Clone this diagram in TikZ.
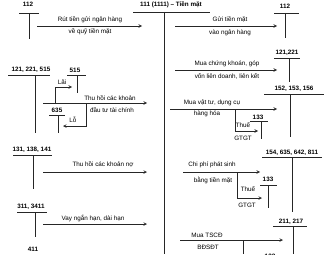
\documentclass[tikz,border=0pt]{standalone}
\usepackage{fontspec}
\setmainfont{Liberation Sans}
\usetikzlibrary{arrows.meta}

\begin{document}
\begin{tikzpicture}[x=1pt,y=-1pt,>=stealth,
  font=\fontsize{6.3}{7}\selectfont,
  every node/.style={inner sep=0pt},
  acc/.style={font=\fontsize{6.3}{7}\selectfont\bfseries},
  tline/.style={line width=0.6pt,black!85},
  flow/.style={->,line width=0.6pt,black!85}]
\useasboundingbox (0,0) rectangle (334,254);
\clip (0,0) rectangle (334,254);

% cash account in the middle
\node[acc] (tm) at (171,5) {111 (1111) – Tiền mặt};
\draw[tline] (133,12) -- (210,12);
\draw[tline] (164,12) coordinate (tmtop) -- (164,254) coordinate (tmbot);

% --- left side: money coming in
\node[acc] (l112) at (28,4) {112};
\draw[tline] (19,13) -- (39,13);
\draw[tline] (29,13) -- (29,39);
\coordinate (r1s) at (37,26);
\coordinate (r1e) at (142,26);
\draw[flow] (r1s) -- (r1e);
\node (r1a) at (90,20) {Rút tiền gửi ngân hàng};
\node (r1b) at (90,32) {về quỹ tiền mặt};

\node[acc] (l121) at (31,70) {121, 221, 515};
\draw[tline] (8,75) -- (50,75);
\draw[tline] (35,75) -- (35,133);
\node[acc] (l515) at (75,70) {515};
\draw[tline] (67,75) -- (86,75);
\draw[tline] (77,75) -- (77,93);
\coordinate (r2s) at (43,103);
\coordinate (r2e) at (147,103);
\draw[flow] (r2s) -- (r2e);
\node (r2a) at (110,98) {Thu hồi các khoản};
\node (r2b) at (112,110) {đầu tư tài chính};
% profit / loss branches
\draw[flow] (55,103) -- (55,87) -- (72,87);
\node (lai) at (62,82) {Lãi};
\draw[flow] (86,103) -- (86,126) -- (63,126);
\node (lo) at (73,120) {Lỗ};
\node[acc] (l635) at (57,110) {635};
\draw[tline] (49,115) -- (65,115);
\draw[tline] (58,115) -- (58,133);

\node[acc] (l131) at (32,150) {131, 138, 141};
\draw[tline] (13,155) -- (52,155);
\draw[tline] (33,155) -- (33,189);
\coordinate (r3s) at (43,172);
\coordinate (r3e) at (147,172);
\draw[flow] (r3s) -- (r3e);
\node (r3a) at (103,165) {Thu hồi các khoản nợ};

\node[acc] (l311) at (31,207) {311, 3411};
\draw[tline] (17,212) -- (47,212);
\draw[tline] (35,212) -- (35,237);
\coordinate (r4s) at (43,224);
\coordinate (r4e) at (147,224);
\draw[flow] (r4s) -- (r4e);
\node (r4a) at (93,218) {Vay ngắn hạn, dài hạn};

\node[acc] (l411) at (33,249) {411};

% --- right side: money going out
\node[acc] (p112) at (285,6) {112};
\draw[tline] (274,13) -- (299,13);
\draw[tline] (285,13) -- (285,38);
\coordinate (c1s) at (175,26);
\coordinate (c1e) at (277,26);
\draw[flow] (c1s) -- (c1e);
\node (c1a) at (230,20) {Gửi tiền mặt};
\node (c1b) at (230,33) {vào ngân hàng};

\node[acc] (p121) at (287,53) {121,221};
\draw[tline] (274,58) -- (300,58);
\draw[tline] (289,58) -- (289,82);
\coordinate (c2s) at (175,70);
\coordinate (c2e) at (277,70);
\draw[flow] (c2s) -- (c2e);
\node (c2a) at (227,64) {Mua chứng khoán, góp};
\node (c2b) at (227,76) {vốn liên doanh, liên kết};

\node[acc] (p152) at (294,89) {152, 153, 156};
\draw[tline] (264,94) -- (324,94);
\draw[tline] (290,94) -- (290,137);
\coordinate (c3s) at (170,109);
\coordinate (c3e) at (277,109);
\draw[flow] (c3s) -- (c3e);
\node (c3a) at (212,103) {Mua vật tư, dụng cụ};
\node (c3b) at (207,114) {hàng hóa};
\draw[flow] (235,109) -- (235,131) -- (258,131);
\node (t1a) at (243,125) {Thuế};
\node (t1b) at (243,138) {GTGT};
\node[acc] (p133a) at (258,117) {133};
\draw[tline] (250,121) -- (268,121);
\draw[tline] (261,121) -- (261,139);

\node[acc] (p154) at (292,153) {154, 635, 642, 811};
\draw[tline] (262,157) -- (322,157);
\draw[tline] (292,157) -- (292,212);
\coordinate (c4s) at (183,172);
\coordinate (c4e) at (260,172);
\draw[flow] (c4s) -- (c4e);
\node (c4a) at (212,165) {Chi phí phát sinh};
\node (c4b) at (213,180) {bằng tiền mặt};
\draw[flow] (237,172) -- (237,198) -- (262,198);
\node (t2a) at (248,189) {Thuế};
\node (t2b) at (247,205) {GTGT};
\node[acc] (p133b) at (268,179) {133};
\draw[tline] (260,185) -- (277,185);
\draw[tline] (268,185) -- (268,208);

\node[acc] (p211) at (291,222) {211, 217};
\draw[tline] (273,226) -- (307,226);
\draw[tline] (293,226) -- (293,254);
\coordinate (c5s) at (180,240);
\coordinate (c5e) at (283,240);
\draw[flow] (c5s) -- (c5e);
\node (c5a) at (207,235) {Mua TSCĐ};
\node (c5b) at (208,247) {BĐSĐT};
\draw[tline] (243,240) -- (243,254);
\node[acc] (p133c) at (270,256) {133};
\end{tikzpicture}
\end{document}
